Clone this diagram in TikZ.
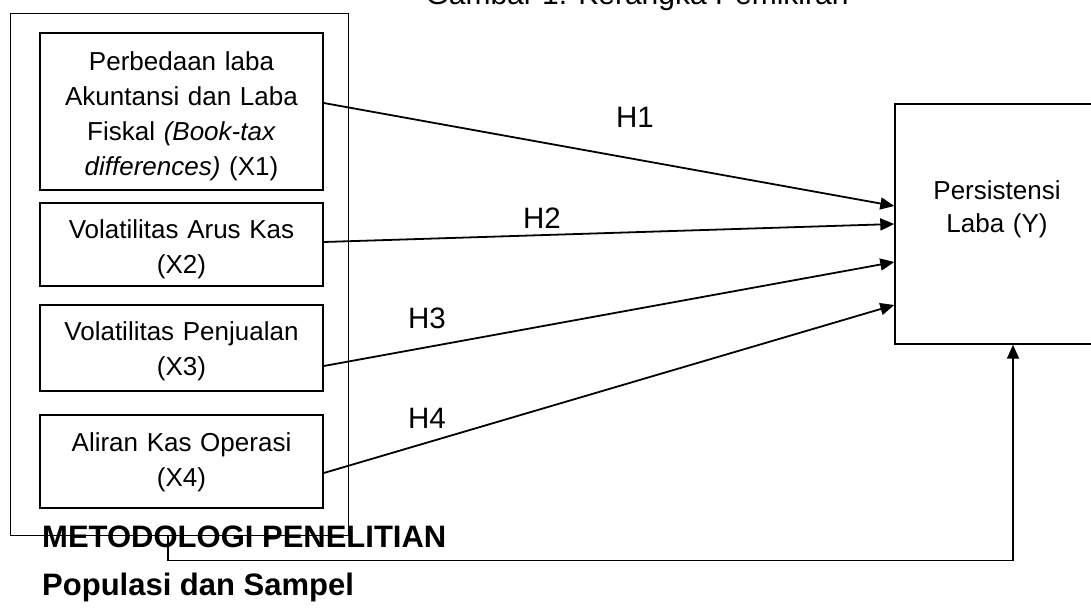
\documentclass[tikz,border=0pt]{standalone}
\usepackage{fontspec}
\setmainfont{Liberation Sans}
\usetikzlibrary{arrows.meta}

\tikzset{
  varbox/.style={draw, line width=1.6pt, minimum width=283pt, inner sep=0pt},
  vartext/.style={anchor=base, text width=283pt, align=center, inner sep=0pt,
                  font=\fontsize{26}{35}\selectfont},
  framebox/.style={draw, line width=0.9pt, minimum width=338pt, minimum height=522pt, inner sep=0pt},
  ybox/.style={draw, line width=1.4pt, minimum width=205pt, minimum height=240pt, inner sep=0pt},
  arr/.style={line width=1.8pt, -{Triangle[length=14pt,width=12pt]}},
  hlabel/.style={anchor=base, font=\fontsize{29.5}{35}\selectfont, inner sep=0pt},
  heading/.style={anchor=base west, font=\fontsize{31}{36}\selectfont\bfseries, inner sep=0pt},
}

\begin{document}
\begin{tikzpicture}[x=1pt,y=-1pt]
\useasboundingbox (0,0) rectangle (1091,608);

% caption of the figure (partly above the page)
\node[anchor=base, inner sep=0pt, font=\fontsize{30}{36}\selectfont] (title) at (637,4) {Gambar 1. Kerangka Pemikiran};

% outer frame around the independent variables
\node[framebox] (frame) at (179,274) {};

% independent variables
\node[varbox, minimum height=157pt] (x1) at (181.5,111.5) {};
\node[varbox, minimum height=83pt] (x2) at (181.5,244.5) {};
\node[varbox, minimum height=86pt] (x3) at (181.5,348) {};
\node[varbox, minimum height=93pt] (x4) at (181.5,461.5) {};

\node[vartext] (t1) at (181.5,70)
  {Perbedaan laba\\Akuntansi dan Laba\\Fiskal \textit{(Book-tax}\\\textit{differences)} (X1)};
\node[vartext] (t2) at (181.5,238) {Volatilitas Arus Kas\\(X2)};
\node[vartext] (t3) at (181.5,340) {Volatilitas Penjualan\\(X3)};
\node[vartext] (t4) at (181.5,451) {Aliran Kas Operasi\\(X4)};

% dependent variable
\node[ybox] (Y) at (997.5,224) {};
\node[vartext, text width=200pt, font=\fontsize{26}{33}\selectfont] (ytxt) at (997,199) {Persistensi\\Laba (Y)};

% hypotheses
\draw[arr] ([yshift=8.5pt]x1.east) -- ([yshift=18pt]Y.west);
\draw[arr] ([yshift=2.5pt]x2.east) -- (Y.west);
\draw[arr] ([yshift=-18pt]x3.east) -- ([yshift=-38pt]Y.west);
\draw[arr] ([yshift=-11.5pt]x4.east) -- ([yshift=-81pt]Y.west);

\node[hlabel] (h1) at (635,127) {H1};
\node[hlabel] (h2) at (542,228) {H2};
\node[hlabel] (h3) at (427,328) {H3};
\node[hlabel] (h4) at (427,428) {H4};

% simultaneous effect
\draw[arr] ([xshift=-11pt]frame.south) -- ++(0,25) -| ([xshift=15.5pt]Y.south);

% section headings of the surrounding text
\node[heading] (met) at (42,547) {METODOLOGI PENELITIAN};
\node[heading] (pop) at (42,595) {Populasi dan Sampel};
\end{tikzpicture}
\end{document}
